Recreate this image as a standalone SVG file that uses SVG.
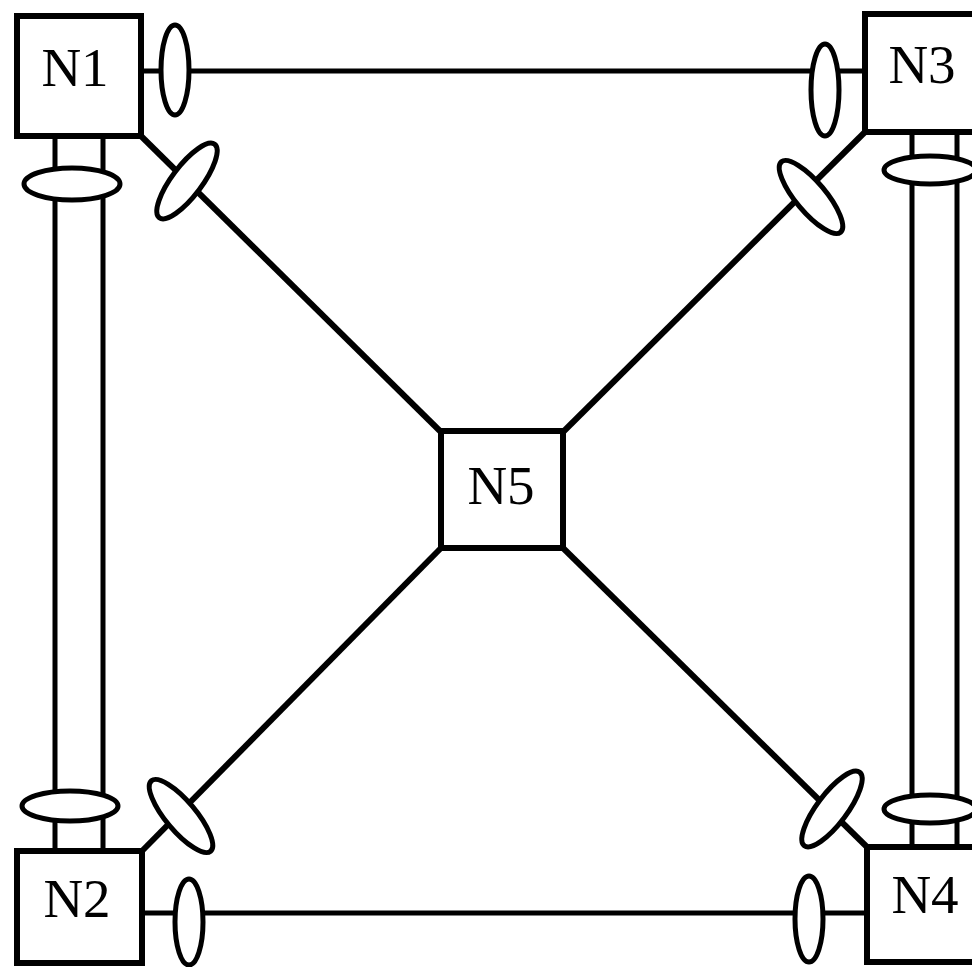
<svg xmlns="http://www.w3.org/2000/svg" width="972" height="967" viewBox="0 0 972 967">
<style>
.box{fill:#fff;stroke:#000;stroke-width:6}
.lbl{font-family:"Liberation Serif","Times New Roman",serif;font-size:55px;fill:#000;text-anchor:middle}
.ln{stroke:#000;stroke-width:5;fill:none}
.dg{stroke:#000;stroke-width:6;fill:none}
.el{fill:#fff;stroke:#000;stroke-width:5}
</style>
<rect width="972" height="967" fill="#fff"/>
<g id="connectors">
<line class="ln" x1="141" y1="71" x2="865" y2="71"/>
<line class="ln" x1="142" y1="913" x2="867" y2="913"/>
<line class="ln" x1="55" y1="136" x2="55" y2="851"/>
<line class="ln" x1="103" y1="136" x2="103" y2="851"/>
<line class="ln" x1="912" y1="132" x2="912" y2="847"/>
<line class="ln" x1="957" y1="132" x2="957" y2="847"/>
<line class="dg" x1="141" y1="136" x2="442" y2="433"/>
<line class="dg" x1="865" y1="132" x2="562" y2="433"/>
<line class="dg" x1="142" y1="851" x2="442" y2="547"/>
<line class="dg" x1="867" y1="847" x2="562" y2="547"/>
<ellipse class="el" cx="175" cy="70" rx="14" ry="45"/>
<ellipse class="el" cx="825" cy="90" rx="14" ry="46"/>
<ellipse class="el" cx="189" cy="922" rx="14" ry="43"/>
<ellipse class="el" cx="809" cy="919" rx="14" ry="43"/>
<ellipse class="el" cx="72" cy="184" rx="48" ry="16"/>
<ellipse class="el" cx="70" cy="806" rx="48" ry="15"/>
<ellipse class="el" cx="930" cy="170" rx="46" ry="14"/>
<ellipse class="el" cx="930" cy="809" rx="46" ry="14"/>
<ellipse class="el" cx="187" cy="181" rx="15" ry="46" transform="rotate(37 187 181)"/>
<ellipse class="el" cx="811" cy="197" rx="15" ry="46" transform="rotate(-40 811 197)"/>
<ellipse class="el" cx="181" cy="816" rx="15" ry="46" transform="rotate(-40 181 816)"/>
<ellipse class="el" cx="832" cy="809" rx="15" ry="46" transform="rotate(37 832 809)"/>
</g>
<g id="N1"><rect class="box" x="17" y="16" width="124" height="120"/><text class="lbl" x="75" y="86">N1</text></g>
<g id="N2"><rect class="box" x="17" y="851" width="125" height="112"/><text class="lbl" x="77" y="917">N2</text></g>
<g id="N3"><rect class="box" x="865" y="14" width="120" height="118"/><text class="lbl" x="922" y="83">N3</text></g>
<g id="N4"><rect class="box" x="867" y="847" width="120" height="115"/><text class="lbl" x="925" y="913">N4</text></g>
<g id="N5"><rect class="box" x="441" y="431" width="122" height="117"/><text class="lbl" x="501" y="504">N5</text></g>
</svg>
